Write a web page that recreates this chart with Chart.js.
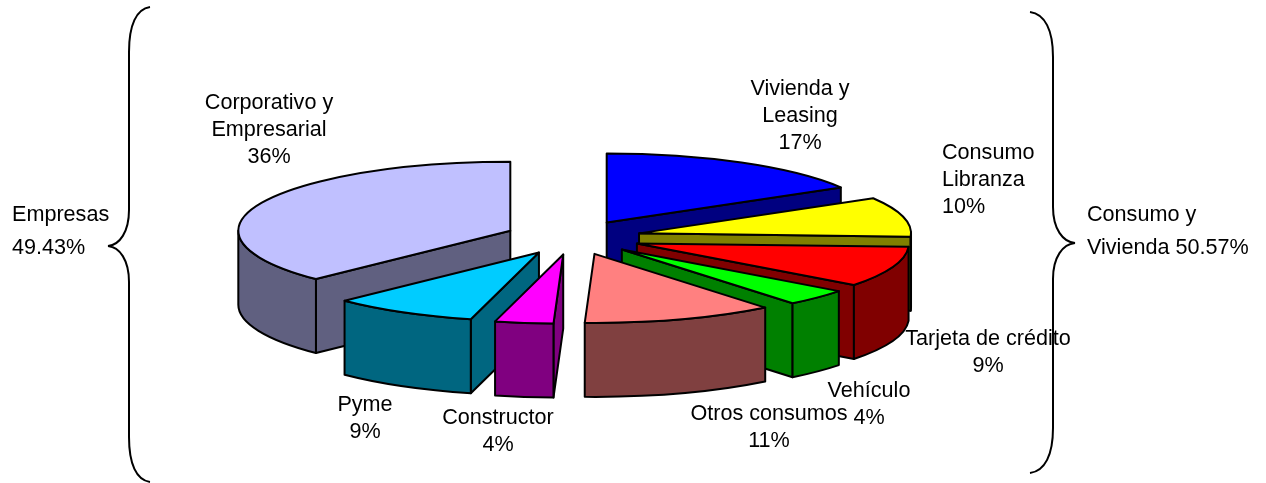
<!DOCTYPE html>
<html><head><meta charset="utf-8">
<style>html,body{margin:0;padding:0;background:#fff}canvas{display:block}</style>
<script src="https://cdn.jsdelivr.net/npm/chart.js@4/dist/chart.umd.min.js"></script>
</head><body><canvas id="c" width="1266" height="483"></canvas>
<script>
const categories = ["Vivienda y Leasing","Consumo Libranza","Tarjeta de crédito","Vehículo","Otros consumos","Constructor","Pyme","Corporativo y Empresarial"];
const shares = [16.5, 9.3, 9.5, 3.9, 11.37, 3.46, 8.64, 37.33];
const percentLabels = ["17%","10%","9%","4%","11%","4%","9%","36%"];
const topColors = ["#0000FF","#FFFF00","#FF0000","#00FF00","#FF8080","#FF00FF","#00CCFF","#C0C0FF"];
const wallColors = ["#000080","#808000","#800000","#008000","#804040","#800080","#006680","#606080"];
const groupNotes = [["Empresas","49.43%"],["Consumo y","Vivienda 50.57%"]];

const RX = 272, SQUASH = 0.2537, DEPTH = 74, EXPLODE = 68;
const FONT = '21.6px "Liberation Sans", Arial, sans-serif';
// wrapped label lines and anchor positions, in data order
const labelLayout = [
  {lines:["Vivienda y","Leasing"], x:800, y:89, align:"center"},
  {lines:["Consumo","Libranza"], x:942, y:153, align:"left"},
  {lines:["Tarjeta de crédito"], x:988, y:339, align:"center", clipRight:1070},
  {lines:["Vehículo"], x:869, y:391, align:"center"},
  {lines:["Otros consumos"], x:769, y:414, align:"center"},
  {lines:["Constructor"], x:498, y:418, align:"center"},
  {lines:["Pyme"], x:365, y:405, align:"center"},
  {lines:["Corporativo y","Empresarial"], x:269, y:103, align:"center"}
];
const LINE = 27;

function slices(chart){
  const meta = chart.getDatasetMeta(0);
  return meta.data.map((el,i)=>{
    const p = el.getProps(['x','y','startAngle','endAngle','outerRadius'], true);
    const mid = (p.startAngle+p.endAngle)/2;
    const k = RX/p.outerRadius;
    return {i, a:p.startAngle, b:p.endAngle, mid,
      cx:p.x+Math.cos(mid)*EXPLODE, cy:p.y+Math.sin(mid)*EXPLODE*SQUASH,
      rx:p.outerRadius*k, ry:p.outerRadius*k*SQUASH, top:el.options.backgroundColor, wall:wallColors[i]};
  });
}
function face(ctx,s,ang,color){
  const x=s.cx+s.rx*Math.cos(ang), y=s.cy+s.ry*Math.sin(ang);
  ctx.beginPath();
  ctx.moveTo(s.cx,s.cy);ctx.lineTo(x,y);ctx.lineTo(x,y+DEPTH);ctx.lineTo(s.cx,s.cy+DEPTH);ctx.closePath();
  ctx.fillStyle=color;ctx.fill();ctx.stroke();
}
function drawSlice(ctx,s){
  ctx.lineWidth=2;ctx.strokeStyle="#000";ctx.lineJoin="round";
  // start cut: outward normal = a-90deg; end cut: outward normal = b+90deg
  if(Math.sin(s.a-Math.PI/2)>1e-6) face(ctx,s,s.a,s.wall);
  if(Math.sin(s.b+Math.PI/2)>1e-6) face(ctx,s,s.b,s.wall);
  // curved outer wall, front half only (canvas angles 0..PI)
  for(const [lo,hi] of [[0,Math.PI],[2*Math.PI,3*Math.PI]]){
    const e0=Math.max(s.a,lo), e1=Math.min(s.b,hi);
    if(e1>e0){
      ctx.beginPath();
      ctx.ellipse(s.cx,s.cy,s.rx,s.ry,0,e0,e1,false);
      ctx.ellipse(s.cx,s.cy+DEPTH,s.rx,s.ry,0,e1,e0,true);
      ctx.closePath();
      ctx.fillStyle=s.wall;ctx.fill();ctx.stroke();
    }
  }
  // top
  ctx.beginPath();
  ctx.moveTo(s.cx,s.cy);
  ctx.ellipse(s.cx,s.cy,s.rx,s.ry,0,s.a,s.b,false);
  ctx.closePath();
  ctx.fillStyle=s.top;ctx.fill();ctx.stroke();
}
function brace(ctx,xEnd,xStem,xTip,yTop,yTip,yBot){
  const cx=xStem+(xEnd-xStem)*.35, mx=xStem+(xTip-xStem)*.45;
  ctx.beginPath();
  ctx.moveTo(xEnd,yTop);
  ctx.bezierCurveTo(cx,yTop+2,xStem,yTop+18,xStem,yTop+45);
  ctx.lineTo(xStem,yTip-36);
  ctx.bezierCurveTo(xStem,yTip-14,mx,yTip-1,xTip,yTip);
  ctx.bezierCurveTo(mx,yTip+1,xStem,yTip+14,xStem,yTip+36);
  ctx.lineTo(xStem,yBot-45);
  ctx.bezierCurveTo(xStem,yBot-18,cx,yBot-2,xEnd,yBot);
  ctx.stroke();
}
const pie3d = {
  id:'pie3d',
  beforeDatasetsDraw(chart){
    const ctx=chart.ctx;
    ctx.save();
    const list=slices(chart).sort((p,q)=>Math.sin(p.mid)-Math.sin(q.mid));
    list.forEach(s=>drawSlice(ctx,s));
    ctx.restore();
    return false;
  },
  afterDraw(chart){
    const ctx=chart.ctx;
    ctx.save();
    ctx.fillStyle="#000";ctx.font=FONT;ctx.textBaseline="middle";
    labelLayout.forEach((l,i)=>{
      ctx.save();
      ctx.textAlign=l.align;
      if(l.clipRight){ctx.beginPath();ctx.rect(0,0,l.clipRight,483);ctx.clip();}
      l.lines.forEach((t,n)=>ctx.fillText(t,l.x,l.y+n*LINE));
      ctx.restore();
      ctx.textAlign=l.align;
      ctx.fillText(percentLabels[i],l.x,l.y+l.lines.length*LINE);
    });
    ctx.textAlign="left";
    ctx.fillText(groupNotes[0][0],12,215);ctx.fillText(groupNotes[0][1],12,248);
    ctx.fillText(groupNotes[1][0],1087,215);ctx.fillText(groupNotes[1][1],1087,248);
    ctx.strokeStyle="#000";ctx.lineWidth=2;
    brace(ctx,150,129,108,7,246,482);
    brace(ctx,1030,1053,1075,12,243,473);
    ctx.restore();
  }
};
new Chart(document.getElementById('c'),{
  type:'pie',
  data:{labels:categories,datasets:[{data:shares,backgroundColor:topColors,borderColor:"#000",borderWidth:1}]},
  options:{responsive:false,animation:false,
    layout:{padding:{left:0,top:0,right:120,bottom:8}},
    plugins:{legend:{display:false},tooltip:{enabled:false}}},
  plugins:[pie3d]
});
</script></body></html>
